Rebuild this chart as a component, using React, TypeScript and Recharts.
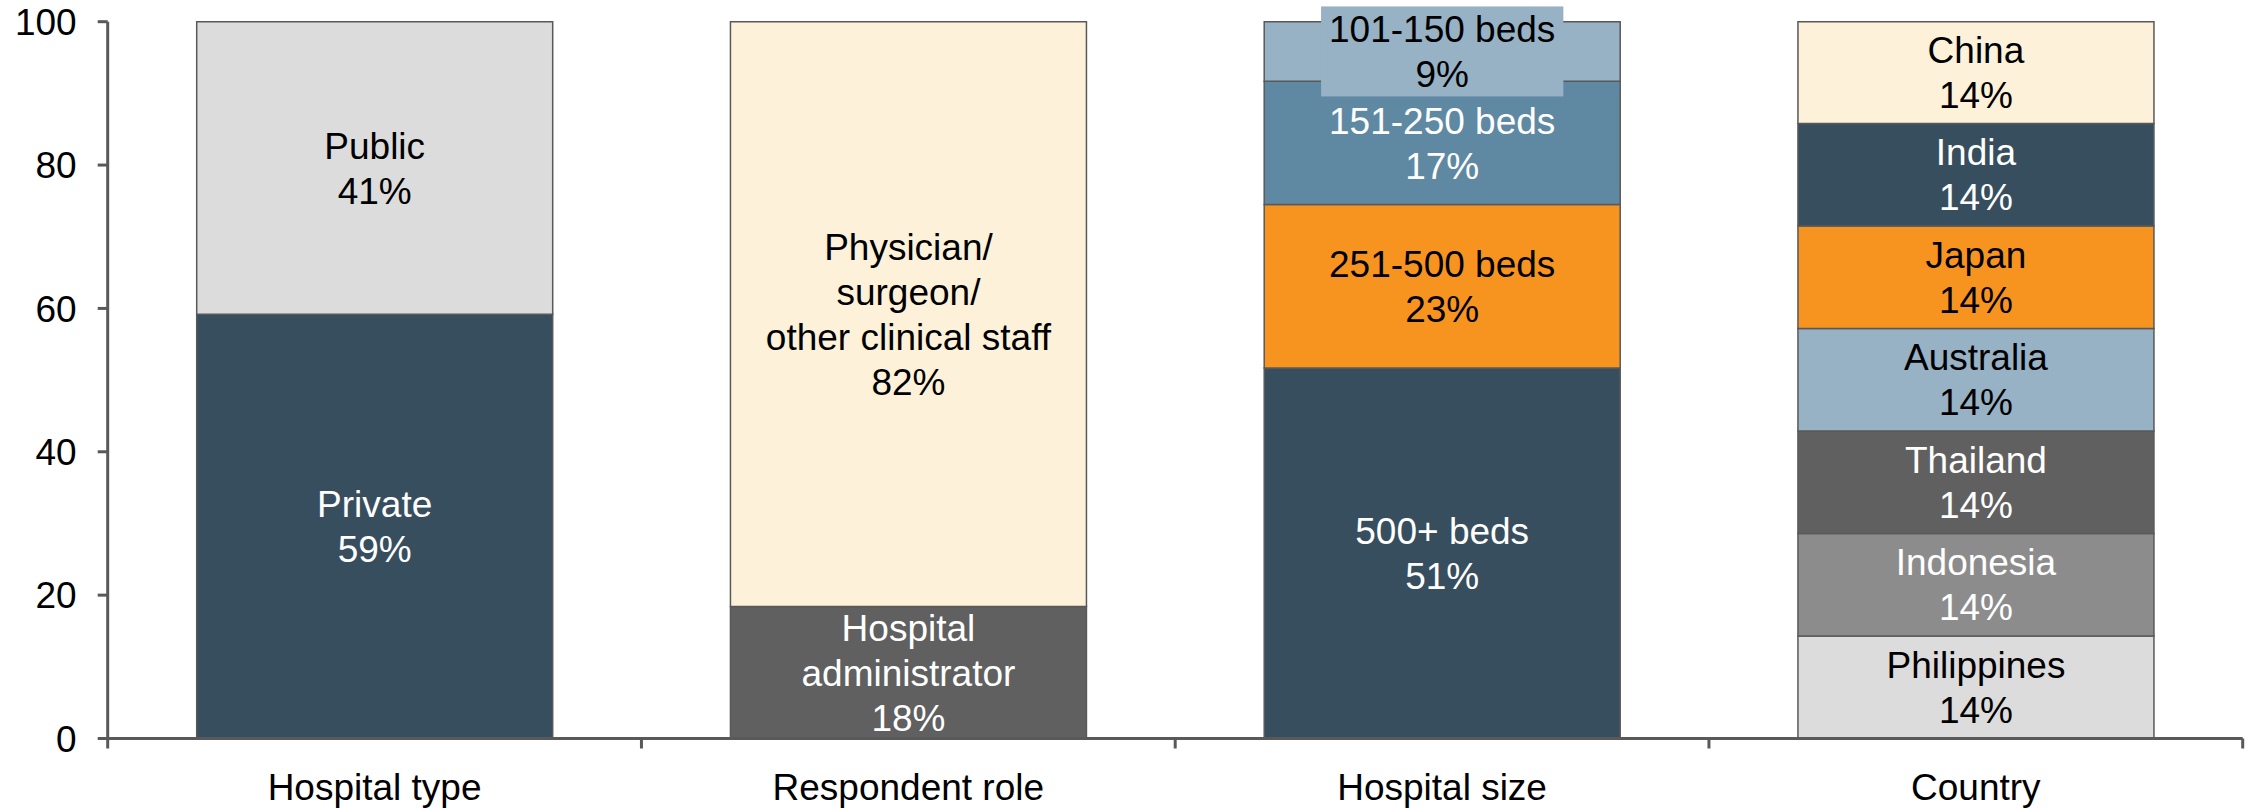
import React from "react";
import { BarChart, Bar, XAxis, YAxis, Cell, LabelList } from "recharts";

// ---------- data ----------
const categories = ["Hospital type", "Respondent role", "Hospital size", "Country"];

const typeNames = ["Private", "Public"];
const typeValues = [59.2, 40.8];
const typePct = ["59%", "41%"];

const roleNames = ["Hospital\nadministrator", "Physician/\nsurgeon/\nother clinical staff"];
const roleValues = [18.4, 81.6];
const rolePct = ["18%", "82%"];

const sizeNames = ["500+ beds", "251-500 beds", "151-250 beds", "101-150 beds"];
const sizeValues = [51.7, 22.8, 17.2, 8.3];
const sizePct = ["51%", "23%", "17%", "9%"];

const countryNames = ["Philippines", "Indonesia", "Thailand", "Australia", "Japan", "India", "China"];
const countryValues = [14.3, 14.3, 14.3, 14.3, 14.3, 14.3, 14.2];
const countryPct = ["14%", "14%", "14%", "14%", "14%", "14%", "14%"];

const yTicks = [0, 20, 40, 60, 80, 100];

// ---------- styles ----------
const DARK = "#374e5e";
const LIGHT = "#dcdcdc";
const CREAM = "#fdf2d9";
const MIDGRAY = "#606060";
const GRAY = "#8c8c8c";
const ORANGE = "#f79420";
const STEEL = "#5f89a3";
const PALE = "#97b1c5";

const fillFor: Record<string, string> = {
  Private: DARK,
  Public: LIGHT,
  "Hospital\nadministrator": MIDGRAY,
  "Physician/\nsurgeon/\nother clinical staff": CREAM,
  "500+ beds": DARK,
  "251-500 beds": ORANGE,
  "151-250 beds": STEEL,
  "101-150 beds": PALE,
  Philippines: LIGHT,
  Indonesia: GRAY,
  Thailand: MIDGRAY,
  Australia: PALE,
  Japan: ORANGE,
  India: DARK,
  China: CREAM,
};
const whiteText = new Set([
  "Private",
  "Hospital\nadministrator",
  "500+ beds",
  "151-250 beds",
  "Indonesia",
  "Thailand",
  "India",
]);
const boxedLabels = new Set(["101-150 beds"]);

const FONT = "'Liberation Sans', Arial, sans-serif";
const FS = 37;
const LH = 45;
const AXIS = "#595959";

// ---------- build table ----------
const groups = [
  { names: typeNames, values: typeValues, pct: typePct },
  { names: roleNames, values: roleValues, pct: rolePct },
  { names: sizeNames, values: sizeValues, pct: sizePct },
  { names: countryNames, values: countryValues, pct: countryPct },
];
const maxSeg = Math.max(...groups.map((g) => g.values.length));
const segKeys = Array.from({ length: maxSeg }, (_, j) => "s" + j);
const rows = categories.map((c, i) => {
  const r: Record<string, any> = { category: c };
  segKeys.forEach((k, j) => {
    r[k] = j < groups[i].values.length ? groups[i].values[j] : 0;
  });
  return r;
});

let measureCtx: CanvasRenderingContext2D | null = null;
function textWidth(s: string) {
  if (!measureCtx) {
    const c = document.createElement("canvas");
    measureCtx = c.getContext("2d");
  }
  if (!measureCtx) return s.length * FS * 0.55;
  measureCtx.font = `${FS}px 'Liberation Sans', Arial, sans-serif`;
  return measureCtx.measureText(s).width;
}

function makeLabel(j: number) {
  return (props: any) => {
    const { x, y, width, height, value } = props;
    const gi = categories.indexOf(String(value));
    const g = groups[gi];
    if (!g || j >= g.names.length) return null;
    if (!height || Number(height) <= 0) return null;
    const name = g.names[j];
    const lines = [...name.split("\n"), g.pct[j]];
    const cx = Number(x) + Number(width) / 2;
    const cy = Number(y) + Number(height) / 2;
    const first = cy - ((lines.length - 1) * LH) / 2;
    const color = whiteText.has(name) ? "#ffffff" : "#000000";
    let box = null;
    if (boxedLabels.has(name)) {
      const w = Math.max(...lines.map(textWidth)) + 16;
      const h = lines.length * LH;
      box = <rect x={cx - w / 2} y={cy - h / 2} width={w} height={h} fill={fillFor[name]} />;
    }
    return (
      <g key={`lbl-${j}-${gi}`}>
        {box}
        {lines.map((t, k) => (
          <text
            key={k}
            x={cx}
            y={first + k * LH + FS * 0.358}
            textAnchor="middle"
            fontSize={FS}
            fontFamily={FONT}
            fill={color}
          >
            {t}
          </text>
        ))}
      </g>
    );
  };
}

const XTick = (props: any) => {
  const { x, y, payload, width, visibleTicksCount, index } = props;
  const half =
    width && visibleTicksCount ? width / visibleTicksCount / 2 : payload?.offset ?? 0;
  return (
    <g>
      <text x={x} y={y + 61} textAnchor="middle" fontSize={FS} fontFamily={FONT} fill="#000">
        {payload.value}
      </text>
      <line x1={x + half} x2={x + half} y1={y} y2={y + 10} stroke={AXIS} strokeWidth={3} />
      {index === 0 && (
        <line x1={x - half} x2={x - half} y1={y} y2={y + 10} stroke={AXIS} strokeWidth={3} />
      )}
    </g>
  );
};

export default function App() {
  return (
    <div style={{ position: "absolute", left: 0, top: 0, width: 2249, height: 808, background: "#fff" }}>
      <BarChart
        width={2249}
        height={808}
        data={rows}
        margin={{ top: 21.7, right: 6.3, bottom: 9.5, left: 0 }}
        style={{ fontFamily: FONT }}
      >
        <XAxis
          dataKey="category"
          height={60}
          tickLine={false}
          tickSize={0}
          tickMargin={0}
          axisLine={{ stroke: AXIS, strokeWidth: 3 }}
          tick={<XTick />}
          interval={0}
        />
        <YAxis
          width={107.7}
          domain={[0, 100]}
          ticks={yTicks}
          interval={0}
          tickSize={10}
          tickMargin={21}
          axisLine={{ stroke: AXIS, strokeWidth: 3 }}
          tickLine={{ stroke: AXIS, strokeWidth: 3 }}
          tick={{ fontSize: FS, fill: "#000", fontFamily: FONT }}
        />
        {segKeys.map((k, j) => (
          <Bar
            key={k}
            dataKey={k}
            stackId="a"
            barSize={356}
            isAnimationActive={false}
            stroke={AXIS}
            strokeWidth={1.5}
          >
            {rows.map((r, i) => {
              const name = groups[i].names[j];
              return <Cell key={i} fill={name ? fillFor[name] : "none"} />;
            })}
            <LabelList dataKey="category" content={makeLabel(j)} />
          </Bar>
        ))}
      </BarChart>
    </div>
  );
}
